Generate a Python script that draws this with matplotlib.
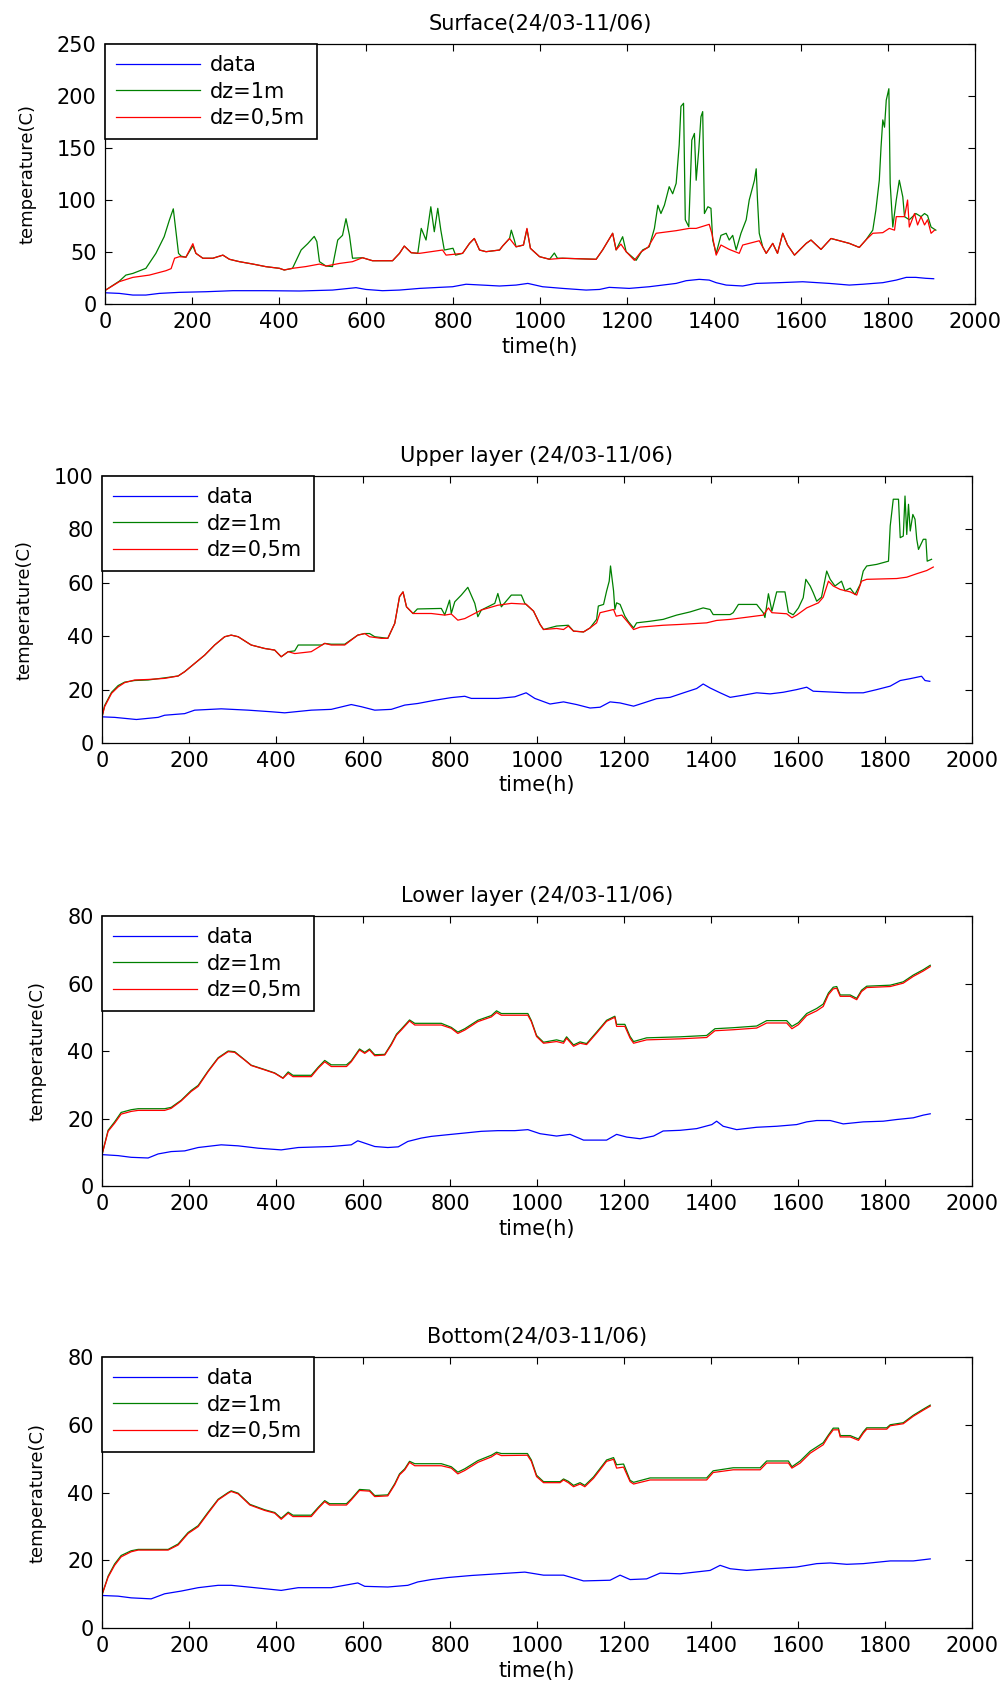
import matplotlib
matplotlib.use("Agg")
import matplotlib.pyplot as plt

# ---- surface ----
surf_t_data = [0, 33, 64, 94, 125, 171, 232, 294, 370, 447,
               523, 577, 600, 638, 677, 723, 769, 799, 830, 876,
               907, 945, 972, 1006, 1052, 1106, 1137, 1159, 1205, 1251,
               1282, 1313, 1336, 1366, 1389, 1405, 1428, 1466, 1497, 1550,
               1604, 1665, 1711, 1742, 1788, 1819, 1842, 1864, 1887, 1905]
surf_data = [10.8, 10.2, 8.6, 8.6, 10.2, 11.2, 11.8, 12.8, 12.8, 12.5,
             13.4, 15.7, 14, 12.8, 13.4, 15, 16, 16.6, 19, 18,
             17.3, 18.2, 19.8, 16.6, 15, 13.4, 14, 16, 15, 16.6,
             18.2, 19.8, 22.4, 23.7, 23, 20.5, 18.2, 17.3, 19.8, 20.5,
             21.4, 19.8, 18.2, 19, 20.5, 23, 25.6, 25.6, 24.7, 24.3]

surf_t_dz1 = [0, 33, 48, 64, 94, 117, 136, 148, 157, 163,
              169, 175, 186, 202, 209, 225, 248, 271, 286, 309,
              340, 370, 401, 412, 431, 451, 466, 481, 487, 493,
              508, 523, 535, 546, 554, 562, 569, 592, 615, 661,
              677, 688, 704, 719, 727, 738, 749, 757, 765, 772,
              780, 800, 806, 822, 838, 849, 861, 876, 907, 914,
              930, 934, 941, 945, 962, 970, 978, 999, 1022, 1033,
              1040, 1052, 1129, 1144, 1167, 1175, 1190, 1198, 1221, 1236,
              1251, 1263, 1271, 1278, 1286, 1297, 1305, 1313, 1320, 1324,
              1330, 1334, 1342, 1349, 1355, 1359, 1365, 1370, 1374, 1378,
              1386, 1393, 1397, 1405, 1416, 1428, 1435, 1443, 1451, 1462,
              1474, 1481, 1493, 1497, 1500, 1504, 1512, 1520, 1535, 1546,
              1558, 1569, 1585, 1612, 1623, 1646, 1669, 1696, 1711, 1734,
              1749, 1765, 1772, 1780, 1784, 1788, 1792, 1796, 1802, 1805,
              1811, 1819, 1826, 1834, 1838, 1849, 1864, 1876, 1884, 1891,
              1899, 1910]
surf_dz1 = [13, 22, 27.8, 29.4, 34.3, 48.7, 64.7, 80.7, 91.5, 70,
            48.7, 46, 45, 56, 48.7, 44, 44, 47, 43, 40.7,
            38.4, 35.9, 34.3, 32.7, 34.3, 52, 58, 65, 60, 40.7,
            36.5, 36, 61.5, 66, 82, 66, 44, 44.5, 41.6, 41.6,
            48.7, 55.7, 49.3, 48.7, 72.7, 61.5, 93.5, 69.5, 92, 71,
            51.9, 53.6, 47, 48.7, 58.3, 63, 51.9, 50.3, 51.9, 55.7,
            63, 71, 61.5, 55, 56.7, 72, 53.5, 45.5, 43, 49,
            44, 44, 43, 52, 68, 52, 64.7, 50.3, 42, 52,
            55, 72.7, 95, 87, 95, 112.8, 106, 116, 153, 190,
            193, 81, 74.3, 157.6, 164, 119, 148, 180, 185, 87,
            93.5, 92, 61.5, 48.7, 66, 68, 61.5, 66, 52, 68,
            81, 100, 119, 130, 100, 68, 55, 48.7, 58.3, 48.7,
            68, 56.7, 47, 58.3, 61.5, 52.5, 63, 60, 58.3, 54.4,
            61.5, 71, 90, 119, 151, 177, 170, 196, 207, 116,
            74, 100, 119, 103, 84, 81, 87, 84, 87, 85,
            74, 71]

surf_t_dz05 = [0, 33, 64, 102, 140, 152, 160, 171, 186, 202,
               209, 225, 248, 271, 286, 309, 340, 370, 401, 412,
               431, 462, 493, 508, 539, 569, 592, 615, 661, 677,
               688, 704, 723, 776, 784, 822, 838, 849, 861, 876,
               907, 914, 930, 945, 962, 970, 978, 999, 1022, 1052,
               1129, 1144, 1167, 1175, 1186, 1198, 1217, 1232, 1248, 1267,
               1313, 1343, 1359, 1389, 1395, 1405, 1416, 1435, 1458, 1466,
               1504, 1520, 1535, 1546, 1558, 1569, 1585, 1612, 1623, 1646,
               1669, 1696, 1711, 1734, 1749, 1765, 1788, 1803, 1815, 1819,
               1838, 1845, 1849, 1861, 1868, 1876, 1884, 1891, 1899, 1907]
surf_dz05 = [13, 21.5, 25.6, 27.8, 32, 34, 44, 45.5, 45, 58,
             48.7, 44, 44, 47, 43, 40.7, 38.4, 35.9, 34.3, 32.7,
             34.3, 36, 38.4, 36.5, 39, 40.7, 44.5, 41.6, 41.6, 48.7,
             55.7, 49.3, 48.7, 51.9, 47, 48.7, 58.3, 63, 51.9, 50.3,
             51.9, 55.7, 63, 55, 56.7, 72.7, 53.5, 45.5, 43, 44,
             43, 52, 68, 52, 57.6, 50.3, 42, 50, 54.4, 68,
             70.5, 72.7, 72.7, 76.6, 68, 47, 56.7, 52.5, 48.7, 56.7,
             60.8, 48.7, 58.3, 48.7, 68, 56.7, 47, 58.3, 61.5, 52.5,
             63, 60, 58.3, 54.4, 61.5, 68, 68.6, 72.7, 71, 84,
             84, 100, 74, 87, 76, 84, 76, 81, 68, 71]

# ---- upper layer ----
up_t_data = [0, 29, 79, 129, 144, 190, 213, 274, 336, 389,
             420, 481, 527, 573, 596, 627, 665, 696, 726, 765,
             803, 834, 849, 910, 949, 975, 995, 1030, 1061, 1091,
             1122, 1145, 1168, 1191, 1222, 1245, 1275, 1306, 1337, 1367,
             1382, 1398, 1421, 1444, 1474, 1505, 1536, 1566, 1597, 1620,
             1635, 1674, 1712, 1750, 1781, 1812, 1835, 1858, 1884, 1892,
             1903]
up_data = [9.8, 9.6, 8.8, 9.6, 10.4, 11, 12.3, 12.8, 12.3, 11.7,
           11.3, 12.3, 12.6, 14.4, 13.6, 12.3, 12.6, 14.2, 14.8, 16,
           17, 17.5, 16.7, 16.7, 17.3, 18.8, 16.7, 14.6, 15.4, 14.4,
           13.1, 13.4, 15.4, 15, 13.8, 15, 16.6, 17.1, 18.8, 20.4,
           22.1, 20.6, 18.8, 17.1, 17.9, 18.8, 18.4, 19, 20, 20.9,
           19.4, 19.1, 18.8, 18.8, 20, 21.3, 23.4, 24.1, 25, 23.4,
           23.1]

up_t_dz1 = [0, 6, 22, 37, 52, 75, 106, 144, 175, 190,
            213, 236, 259, 282, 297, 313, 343, 374, 397, 412,
            428, 443, 451, 505, 512, 527, 558, 588, 604, 615,
            627, 657, 673, 684, 692, 700, 715, 725, 780, 788,
            799, 803, 811, 826, 841, 857, 864, 872, 903, 910,
            918, 941, 964, 972, 992, 1007, 1015, 1045, 1072, 1084,
            1107, 1122, 1137, 1141, 1153, 1160, 1166, 1169, 1176, 1179,
            1183, 1191, 1202, 1210, 1222, 1229, 1260, 1290, 1321, 1352,
            1382, 1398, 1405, 1444, 1451, 1463, 1505, 1520, 1524, 1532,
            1540, 1551, 1570, 1578, 1589, 1601, 1612, 1618, 1628, 1635,
            1643, 1654, 1666, 1674, 1685, 1700, 1708, 1720, 1731, 1743,
            1750, 1758, 1781, 1808, 1812, 1819, 1831, 1835, 1842, 1846,
            1850, 1854, 1858, 1864, 1869, 1873, 1877, 1888, 1894, 1897,
            1907]
up_dz1 = [9.8, 14, 19, 21.5, 22.8, 23.4, 23.6, 24.4, 25.1, 26.7,
          29.8, 32.9, 36.7, 39.8, 40.4, 39.8, 36.7, 35.4, 34.8, 32.3,
          34.2, 34.5, 36.7, 36.7, 37.3, 37, 37, 40.4, 41, 41,
          39.8, 39.2, 44.8, 54.8, 56.6, 51, 48.5, 50.2, 50.4, 48,
          53.5, 48.5, 52.9, 55.4, 58.3, 52.3, 47.3, 49.8, 52.3, 56,
          51, 55.4, 55.4, 52.3, 49.4, 44.4, 42.5, 43.8, 44.1, 41.9,
          41.6, 43.1, 46.3, 51.3, 51.9, 56.9, 60.6, 66.3, 57, 50,
          52.5, 51.9, 47.5, 45.5, 43.1, 45, 45.6, 46.3, 47.9, 49.1,
          50.6, 50, 48.1, 48.1, 48.8, 51.9, 51.9, 48.8, 47, 55.9,
          49.4, 56.6, 56.6, 49, 48, 50.6, 54.4, 61.3, 58.8, 56.3,
          53.1, 54.6, 64.4, 61.3, 58.8, 60.6, 57, 58, 55.6, 59.4,
          64.4, 66.3, 66.9, 68.1, 81.3, 91.3, 91.3, 76.9, 77.5, 92.5,
          78.1, 89.4, 79.4, 85.6, 83.8, 76.3, 72.5, 76.3, 76.3, 68.1,
          68.8]

up_t_dz05 = [0, 6, 22, 37, 52, 75, 106, 144, 175, 190,
             213, 236, 259, 282, 297, 313, 343, 374, 397, 412,
             428, 443, 481, 512, 527, 558, 588, 604, 615, 642,
             657, 673, 684, 692, 700, 715, 757, 788, 803, 818,
             834, 872, 910, 941, 975, 992, 1007, 1015, 1045, 1061,
             1072, 1084, 1107, 1122, 1137, 1145, 1176, 1182, 1195, 1210,
             1222, 1237, 1290, 1329, 1390, 1413, 1444, 1520, 1532, 1540,
             1574, 1586, 1597, 1620, 1647, 1658, 1670, 1681, 1697, 1720,
             1735, 1746, 1758, 1827, 1850, 1873, 1896, 1911]
up_dz05 = [9.8, 13.6, 18.6, 21, 22.6, 23.6, 23.8, 24.2, 25.1, 26.7,
           29.8, 32.9, 36.7, 39.8, 40.4, 39.8, 36.7, 35.4, 34.8, 32.3,
           34.2, 33.5, 34.2, 37.3, 36.7, 36.7, 40.4, 41, 39.8, 39.2,
           39.2, 44.8, 54.8, 56.6, 51, 48.5, 48.5, 47.9, 48.3, 46,
           46.6, 49.8, 51.6, 52.3, 52, 49.4, 44.4, 42.5, 42.9, 42.5,
           43.8, 41.9, 41.6, 43.1, 45, 48.8, 50, 47.5, 47.9, 45,
           42.5, 43.4, 44.1, 44.4, 45, 45.9, 46.3, 47.9, 50.6, 48.8,
           48.4, 46.9, 47.9, 50.6, 52.5, 54.6, 60.6, 58.8, 57.5, 56.6,
           55.4, 60.6, 61.3, 61.6, 62.1, 63.4, 64.6, 65.9]

# ---- lower layer ----
low_t_data = [0, 37, 67, 106, 129, 159, 190, 221, 274, 313,
              359, 412, 451, 527, 573, 588, 604, 627, 657, 681,
              703, 734, 757, 795, 834, 872, 910, 949, 979, 1007,
              1045, 1076, 1107, 1160, 1183, 1206, 1237, 1268, 1290, 1329,
              1367, 1402, 1413, 1428, 1459, 1505, 1551, 1597, 1620, 1643,
              1674, 1704, 1750, 1796, 1827, 1865, 1888, 1904]
low_data = [9.3, 9, 8.5, 8.3, 9.5, 10.2, 10.4, 11.4, 12.2, 11.9,
            11.2, 10.7, 11.4, 11.7, 12.2, 13.4, 12.7, 11.7, 11.4, 11.6,
            13.2, 14.2, 14.7, 15.2, 15.7, 16.2, 16.4, 16.4, 16.7, 15.5,
            14.8, 15.3, 13.6, 13.6, 15.3, 14.5, 14, 14.8, 16.3, 16.5,
            17, 18.2, 19.2, 17.7, 16.7, 17.4, 17.7, 18.2, 19, 19.4,
            19.4, 18.4, 19, 19.2, 19.7, 20.2, 21, 21.4]

low_t_model = [0, 6, 14, 29, 44, 67, 83, 144, 159, 182,
               205, 221, 244, 267, 290, 305, 328, 343, 374, 397,
               416, 428, 439, 481, 497, 512, 527, 562, 573, 592,
               604, 615, 627, 650, 665, 677, 688, 707, 719, 780,
               803, 818, 834, 864, 895, 907, 918, 979, 987, 999,
               1015, 1045, 1061, 1068, 1084, 1099, 1114, 1137, 1160, 1179,
               1183, 1202, 1214, 1222, 1252, 1329, 1390, 1409, 1451, 1505,
               1528, 1574, 1586, 1601, 1620, 1643, 1658, 1670, 1681, 1689,
               1697, 1720, 1735, 1746, 1758, 1812, 1842, 1865, 1888, 1904]
low_dz1 = [9.3, 12.4, 16.5, 19, 21.8, 22.6, 22.9, 22.9, 23.3, 25.4,
           28.3, 29.8, 34.1, 38, 40, 39.8, 37.4, 35.8, 34.5, 33.5,
           32, 33.8, 32.8, 32.8, 35.2, 37.2, 35.9, 35.9, 37.1, 40.6,
           39.6, 40.6, 38.9, 39, 42.1, 45, 46.5, 49.2, 48.2, 48.2,
           47, 45.6, 46.6, 49.1, 50.5, 51.9, 51.1, 51.1, 49, 44.6,
           42.6, 43.3, 42.8, 44.2, 41.8, 42.7, 42.2, 45.6, 49.1, 50.3,
           47.9, 47.9, 44.3, 42.8, 43.9, 44.2, 44.6, 46.6, 46.9, 47.4,
           49, 49, 47.3, 48.4, 51.1, 52.6, 53.9, 57.2, 58.9, 59.1,
           56.6, 56.6, 55.6, 58, 59.2, 59.5, 60.5, 62.5, 64.1, 65.4]
low_dz05 = [9.3, 12.2, 16.2, 18.6, 21.3, 22.1, 22.4, 22.4, 23, 25.2,
            28, 29.5, 33.9, 37.8, 39.8, 39.6, 37.3, 35.7, 34.4, 33.4,
            31.9, 33.4, 32.4, 32.4, 34.9, 36.8, 35.4, 35.4, 36.8, 40.3,
            39.3, 40.3, 38.6, 38.8, 41.8, 44.7, 46.2, 48.9, 47.7, 47.7,
            46.7, 45.2, 46.2, 48.7, 50.1, 51.4, 50.6, 50.6, 48.7, 44.3,
            42.3, 42.8, 42.3, 43.8, 41.4, 42.3, 41.9, 45.3, 48.8, 50,
            47.3, 47.3, 43.8, 42.3, 43.3, 43.6, 44, 46, 46.3, 46.8,
            48.3, 48.3, 46.6, 47.8, 50.5, 51.9, 53.2, 56.7, 58.4, 58.6,
            56.2, 56.2, 55.2, 57.6, 58.8, 59.1, 60.1, 62.1, 63.7, 65]

# ---- bottom ----
bot_t_data = [0, 37, 67, 113, 144, 182, 221, 267, 297, 336,
              412, 451, 527, 588, 604, 657, 703, 726, 757, 795,
              849, 910, 972, 1015, 1061, 1107, 1168, 1191, 1214, 1252,
              1283, 1329, 1398, 1421, 1444, 1482, 1536, 1597, 1643, 1674,
              1712, 1750, 1812, 1865, 1904]
bot_data = [9.6, 9.4, 8.9, 8.6, 10.1, 10.9, 11.9, 12.6, 12.6, 12.1,
            11.1, 11.9, 11.9, 13.3, 12.3, 12.1, 12.6, 13.6, 14.3, 14.9,
            15.5, 16, 16.5, 15.6, 15.6, 13.9, 14.1, 15.6, 14.3, 14.5,
            16.2, 16, 17, 18.5, 17.5, 17, 17.5, 18, 19, 19.2,
            18.8, 19, 19.8, 19.8, 20.4]

bot_t_model = [0, 14, 29, 44, 67, 83, 152, 175, 198, 221,
               244, 267, 290, 297, 313, 340, 374, 397, 412, 428,
               439, 481, 497, 512, 523, 562, 573, 592, 615, 627,
               657, 673, 684, 696, 707, 719, 780, 803, 818, 834,
               864, 895, 907, 918, 978, 987, 999, 1015, 1053, 1061,
               1072, 1084, 1099, 1110, 1130, 1160, 1176, 1183, 1199, 1214,
               1222, 1260, 1390, 1405, 1451, 1513, 1528, 1578, 1586, 1605,
               1628, 1658, 1670, 1681, 1693, 1697, 1720, 1739, 1750, 1758,
               1804, 1812, 1842, 1865, 1888, 1904]
bot_dz1 = [9.8, 15.3, 18.9, 21.4, 22.8, 23.2, 23.2, 24.8, 28.2, 30.2,
           34.2, 38, 40, 40.5, 39.8, 36.5, 34.9, 34.1, 32.4, 34.2,
           33.3, 33.3, 35.6, 37.6, 36.7, 36.7, 38.1, 40.9, 40.7, 39.1,
           39.3, 42.6, 45.5, 47, 49.2, 48.5, 48.5, 47.6, 46, 47,
           49.4, 51, 51.9, 51.5, 51.5, 49.6, 45.1, 43.2, 43.2, 44,
           43.3, 42.1, 42.9, 42.1, 44.6, 49.6, 50.3, 48.2, 48.4, 43.6,
           43, 44.3, 44.3, 46.4, 47.3, 47.3, 49.3, 49.3, 47.6, 49.3,
           52.2, 54.7, 57, 59, 59, 56.8, 56.8, 55.8, 57.9, 59.1,
           59.1, 60, 60.6, 62.8, 64.6, 65.8]
bot_dz05 = [9.8, 15, 18.5, 21, 22.5, 23, 23, 24.5, 27.9, 29.9,
            33.9, 37.8, 39.8, 40.3, 39.6, 36.3, 34.7, 33.9, 32.1, 33.9,
            32.9, 32.9, 35.3, 37.3, 36.3, 36.3, 37.8, 40.6, 40.4, 38.8,
            39, 42.3, 45.2, 46.7, 48.9, 47.9, 47.9, 47.2, 45.5, 46.5,
            48.9, 50.5, 51.5, 50.9, 51, 49.2, 44.7, 42.9, 42.9, 43.7,
            42.9, 41.7, 42.5, 41.7, 44.2, 49.2, 49.8, 47.2, 47.5, 43.2,
            42.5, 43.7, 43.7, 45.9, 46.7, 46.7, 48.7, 48.7, 47.2, 48.7,
            51.6, 54.1, 56.6, 58.5, 58.5, 56.4, 56.4, 55.4, 57.5, 58.7,
            58.7, 59.7, 60.3, 62.5, 64.3, 65.5]

labels = ["data", "dz=1m", "dz=0,5m"]
x_ticks = list(range(0, 2001, 200))

W, H = 1003, 1685
fig = plt.figure(figsize=(W / 100, H / 100), dpi=100)
fig.patch.set_facecolor("white")


def panel(rect, title, ymax, ystep, series):
    """one matlab-like subplot: three curves, boxed legend, ticks inside"""
    l, t, r, b = rect
    ax = fig.add_axes([l / W, 1 - b / H, (r - l) / W, (b - t) / H])
    colors = ["#0000ff", "#008000", "#ff0000"]
    for (tt, vv), c, lab in zip(series, colors, labels):
        ax.plot(tt, vv, color=c, lw=0.9, label=lab)
    ax.set_xlim(0, 2000)
    ax.set_ylim(0, ymax)
    ax.set_xticks(x_ticks)
    ax.set_yticks(list(range(0, ymax + 1, ystep)))
    ax.tick_params(direction="in", top=True, right=True, length=5,
                   width=0.8, labelsize=15, pad=6)
    for s in ax.spines.values():
        s.set_linewidth(0.9)
    ax.set_title(title, fontsize=15, pad=10)
    ax.set_xlabel("time(h)", fontsize=15, labelpad=3)
    ax.set_ylabel("temperature(C)", fontsize=13, labelpad=15)
    leg = ax.legend(loc="upper left", fontsize=15, borderaxespad=0,
                    fancybox=False, edgecolor="black", framealpha=1,
                    handlelength=4.0, handletextpad=0.5, borderpad=0.55,
                    labelspacing=0.3)
    leg.get_frame().set_linewidth(1.2)
    return ax


panel((105, 44, 975, 304), "Surface(24/03-11/06)", 250, 50,
      [(surf_t_data, surf_data), (surf_t_dz1, surf_dz1), (surf_t_dz05, surf_dz05)])
panel((102, 476, 972, 743), "Upper layer (24/03-11/06)", 100, 20,
      [(up_t_data, up_data), (up_t_dz1, up_dz1), (up_t_dz05, up_dz05)])
panel((102, 916, 972, 1186), "Lower layer (24/03-11/06)", 80, 20,
      [(low_t_data, low_data), (low_t_model, low_dz1), (low_t_model, low_dz05)])
panel((102, 1357, 972, 1628), "Bottom(24/03-11/06)", 80, 20,
      [(bot_t_data, bot_data), (bot_t_model, bot_dz1), (bot_t_model, bot_dz05)])

fig.savefig("out.png", dpi=100)
